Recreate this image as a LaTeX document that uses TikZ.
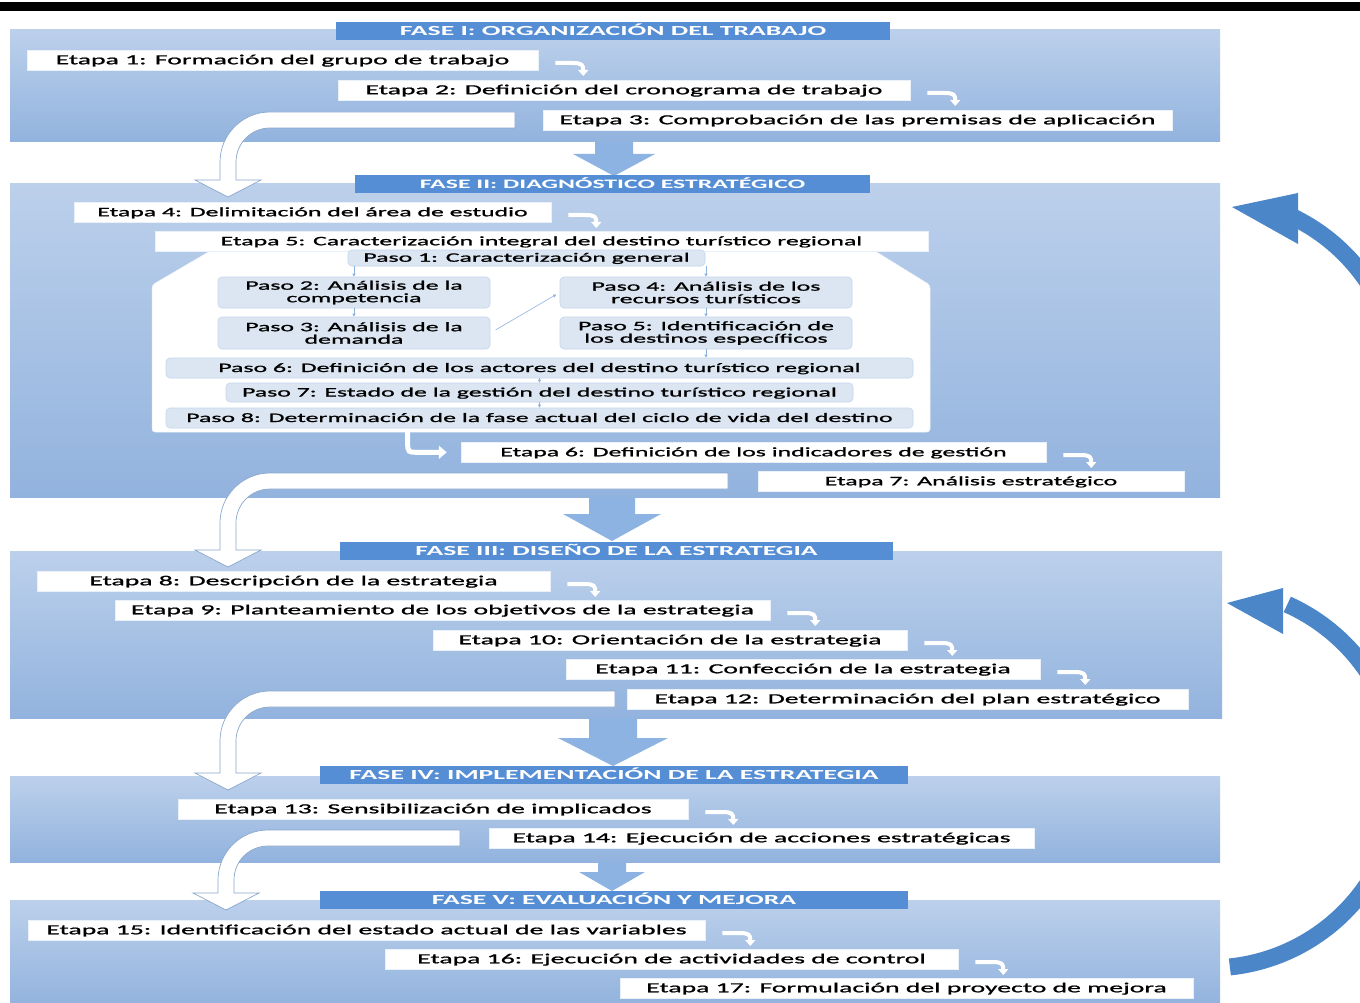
\documentclass[tikz,border=0pt]{standalone}
\usepackage{fontspec}
\setmainfont{Carlito}[FakeStretch=2.0, FakeBold=1.2]
\newfontfamily\hdrfont{Carlito}[FakeStretch=2.0]
\usetikzlibrary{arrows.meta,calc}
\definecolor{boxtop}{HTML}{BCD0EB}
\definecolor{boxbot}{HTML}{92B3DE}
\definecolor{hdr}{HTML}{558ED5}
\definecolor{barrow}{HTML}{8DB3E2}
\definecolor{pasofill}{HTML}{DCE6F2}
\definecolor{pasoline}{HTML}{C3D5EC}
\definecolor{wline}{HTML}{8AA7CC}
\definecolor{arcblue}{HTML}{4A86C8}
\definecolor{parr}{HTML}{8DB3E2}
\newcommand\fsz{\fontsize{13.85pt}{13pt}\selectfont}
\newcommand\fszs{\fontsize{12.9pt}{12.5pt}\selectfont}
\tikzset{
  phasebox/.style={top color=boxtop, bottom color=boxbot, draw=none, inner sep=0pt},
  hdrbox/.style={fill=hdr, text=white, font=\hdrfont\bfseries\fsz, inner sep=0pt, minimum height=18pt, text height=10.5pt, text depth=2pt},
  etapa/.style={fill=white, draw=white!80!boxbot, line width=0.5pt, inner sep=0pt, minimum height=20pt, font=\fsz, text=black, text height=10.5pt, text depth=2pt},
  small/.style={font=\fszs},
  paso/.style={fill=pasofill, draw=pasoline, line width=0.6pt, rounded corners=4pt, inner sep=0pt, font=\fszs, align=center},
  hookarrow/.style={draw=white, line width=4pt, -{Triangle[width=10pt,length=6pt]}},
  parrow/.style={draw=parr, line width=0.6pt, -{Triangle[width=3pt,length=3pt]}},
  larrow/.style={draw=white, line width=5pt, -{Triangle[width=13pt,length=8pt]}},
  wshape/.style={fill=white, draw=wline, line width=0.7pt, line join=miter},
  arcline/.style={draw=arcblue, line width=17pt},
}
% big white curved arrow: #1 x right end, #2 y of band, #3 x of vertical, #4 y of tip
\newcommand\wcurve[4]{%
  \path[wshape] (#1,#2-8) -- ({#3+42},#2-8)
    .. controls ({#3+14.4},#2-8) and ({#3-8},{#2+14.4}) .. ({#3-8},{#2+42})
    -- ({#3-8},{#4-17}) -- ({#3-33},{#4-17}) -- (#3,#4) -- ({#3+33},{#4-17})
    -- ({#3+8},{#4-17}) -- ({#3+8},{#2+42})
    .. controls ({#3+8},{#2+23.2}) and ({#3+23.2},{#2+8}) .. ({#3+42},{#2+8})
    -- (#1,#2+8) -- cycle;}
% blue down arrow: #1 x centre, #2 y top, #3 y head base, #4 y tip, #5 shaft half, #6 head half
\newcommand\bdown[6]{%
  \fill[barrow] ({#1-#5},#2) -- ({#1+#5},#2) -- ({#1+#5},#3) -- ({#1+#6},#3)
    -- (#1,#4) -- ({#1-#6},#3) -- ({#1-#5},#3) -- cycle;}
% small hook arrow after an etapa node
\newcommand\hookafter[1]{%
  \draw[hookarrow] ($(#1.east)+(17,3)$) -- ($(#1.east)+(34,3)$)
    .. controls ($(#1.east)+(44,3)$) and ($(#1.east)+(45,5)$) .. ($(#1.east)+(45,16)$);}
\begin{document}
\begin{tikzpicture}[x=1pt,y=-1pt]
\useasboundingbox (0,0) rectangle (1360,1003);
\clip (0,0) rectangle (1360,1003);
\fill[black] (0,2) rectangle (1360,11);

% phase boxes
\node[phasebox, minimum width=1210, minimum height=112] (ph1) at (615,86) {};
\node[phasebox, minimum width=1210, minimum height=313] (ph2) at (615,340.5) {};
\node[phasebox, minimum width=1212, minimum height=167] (ph3) at (616,634.5) {};
\node[phasebox, minimum width=1210, minimum height=86] (ph4) at (615,819) {};
\node[phasebox, minimum width=1210, minimum height=106] (ph5) at (615,953) {};

% blue down arrows between phases
\bdown{614}{142}{154}{176}{19}{41}
\bdown{612}{497}{514}{541}{23}{49}
\bdown{613}{718}{738}{766}{24}{55}
\bdown{612}{862}{872}{891}{14}{33}

% phase headers
\node[hdrbox, minimum width=554] (h1) at (613,31) {FASE I: ORGANIZACIÓN DEL TRABAJO};
\node[hdrbox, minimum width=515, font=\hdrfont\bfseries\fszs] (h2) at (612.5,184.5) {FASE II: DIAGNÓSTICO ESTRATÉGICO};
\node[hdrbox, minimum width=553] (h3) at (616.5,551) {FASE III: DISEÑO DE LA ESTRATEGIA};
\node[hdrbox, minimum width=588] (h4) at (614,775) {FASE IV: IMPLEMENTACIÓN DE LA ESTRATEGIA};
\node[hdrbox, minimum width=588] (h5) at (614,900) {FASE V: EVALUACIÓN Y MEJORA};

% big white curved arrows
\wcurve{515}{120}{228}{197}
\wcurve{728}{481}{228}{567}
\wcurve{615}{699}{228}{790}
\wcurve{460}{838}{226}{910}

% inner panel of Etapa 5
\path[fill=white, draw=white!80!boxbot, line width=0.5pt, rounded corners=3pt]
  (152,285) -- (210,251) -- (875,251) -- (930,285) -- (930,432) -- (152,432) -- cycle;

% etapas
\node[etapa, minimum width=511] (e1) at (282.5,60) {Etapa 1: Formación del grupo de trabajo};
\node[etapa, minimum width=572] (e2) at (624,90) {Etapa 2: Definición del cronograma de trabajo};
\node[etapa, minimum width=629] (e3) at (857.5,120) {Etapa 3: Comprobación de las premisas de aplicación};
\node[etapa, small, minimum width=477] (e4) at (312.5,212) {Etapa 4: Delimitación del área de estudio};
\node[etapa, small, minimum width=773] (e5) at (541.5,241) {Etapa 5: Caracterización integral del destino turístico regional};
\node[etapa, small, minimum width=585] (e6) at (753.5,452) {Etapa 6: Definición de los indicadores de gestión};
\node[etapa, small, minimum width=426] (e7) at (971,481) {Etapa 7: Análisis estratégico};
\node[etapa, minimum width=513] (e8) at (293.5,581) {Etapa 8: Descripción de la estrategia};
\node[etapa, minimum width=655] (e9) at (442.5,610) {Etapa 9: Planteamiento de los objetivos de la estrategia};
\node[etapa, minimum width=474] (e10) at (670,640) {Etapa 10: Orientación de la estrategia};
\node[etapa, minimum width=474] (e11) at (803,669) {Etapa 11: Confección de la estrategia};
\node[etapa, minimum width=561] (e12) at (907.5,699) {Etapa 12: Determinación del plan estratégico};
\node[etapa, minimum width=510] (e13) at (433,809) {Etapa 13: Sensibilización de implicados};
\node[etapa, minimum width=545] (e14) at (761.5,838) {Etapa 14: Ejecución de acciones estratégicas};
\node[etapa, minimum width=677] (e15) at (366.5,930) {Etapa 15: Identificación del estado actual de las variables};
\node[etapa, minimum width=573] (e16) at (671.5,959) {Etapa 16: Ejecución de actividades de control};
\node[etapa, minimum width=573] (e17) at (906.5,988) {Etapa 17: Formulación del proyecto de mejora};

% pasos
\node[paso, minimum width=357, minimum height=16, text height=9.5pt, text depth=2pt] (p1) at (526.5,258) {Paso 1: Caracterización general};
\node[paso, minimum width=272, minimum height=31] (p2) at (354,292.5) {Paso 2: Análisis de la\\competencia};
\node[paso, minimum width=272, minimum height=32] (p3) at (354,333) {Paso 3: Análisis de la\\demanda};
\node[paso, minimum width=292, minimum height=31] (p4) at (706,292.5) {Paso 4: Análisis de los\\recursos turísticos};
\node[paso, minimum width=292, minimum height=32] (p5) at (706,333) {Paso 5: Identificación de\\los destinos específicos};
\node[paso, minimum width=747, minimum height=20, text height=10pt, text depth=2pt] (p6) at (539.5,368) {Paso 6: Definición de los actores del destino turístico regional};
\node[paso, minimum width=627, minimum height=19, text height=10pt, text depth=2pt] (p7) at (539.5,392.5) {Paso 7: Estado de la gestión del destino turístico regional};
\node[paso, minimum width=747, minimum height=20, text height=10pt, text depth=2pt] (p8) at (539.5,418) {Paso 8: Determinación de la fase actual del ciclo de vida del destino};

% paso connectors
\draw[parrow] (p1.south -| p2.north) -- (p2.north);
\draw[parrow] (p1.south -| p4.north) -- (p4.north);
\draw[parrow] (p2.south) -- (p3.north);
\draw[parrow, shorten <=6pt, shorten >=4pt] (p3.east) -- (p4.west);
\draw[parrow] (p4.south) -- (p5.north);
\draw[parrow] (p5.south) -- (p5.south |- p6.north);
\draw[parrow] (p6.south) -- (p7.north);
\draw[parrow] (p7.south) -- (p8.north);

% L arrow from Paso 8 to Etapa 6
\draw[larrow, shorten >=14pt] ($(p8.south west)+(242,1)$) -- ($(p8.south west)+(242,14)$)
  .. controls ($(p8.south west)+(242,24)$) .. ($(p8.south west)+(254,24)$) -- (e6.west |- {$(p8.south west)+(0,24)$});

% hook arrows
\hookafter{e1}
\hookafter{e2}
\hookafter{e4}
\hookafter{e6}
\hookafter{e8}
\hookafter{e9}
\hookafter{e10}
\hookafter{e11}
\hookafter{e13}
\hookafter{e15}
\hookafter{e16}

% big curved blue return arrows on the right
\draw[arcline] plot[domain=-84:66, samples=90, variable=\t] ({1210+190*cos(\t)},{778-190*sin(\t)});
\fill[arcblue] (1283,588) -- (1227,603) -- (1283,634) -- cycle;
\draw[arcline] plot[domain=-20:64, samples=60, variable=\t] ({1210+190*cos(\t)},{388-190*sin(\t)});
\fill[arcblue] (1298,193) -- (1232,207) -- (1298,244) -- cycle;
\end{tikzpicture}
\end{document}
